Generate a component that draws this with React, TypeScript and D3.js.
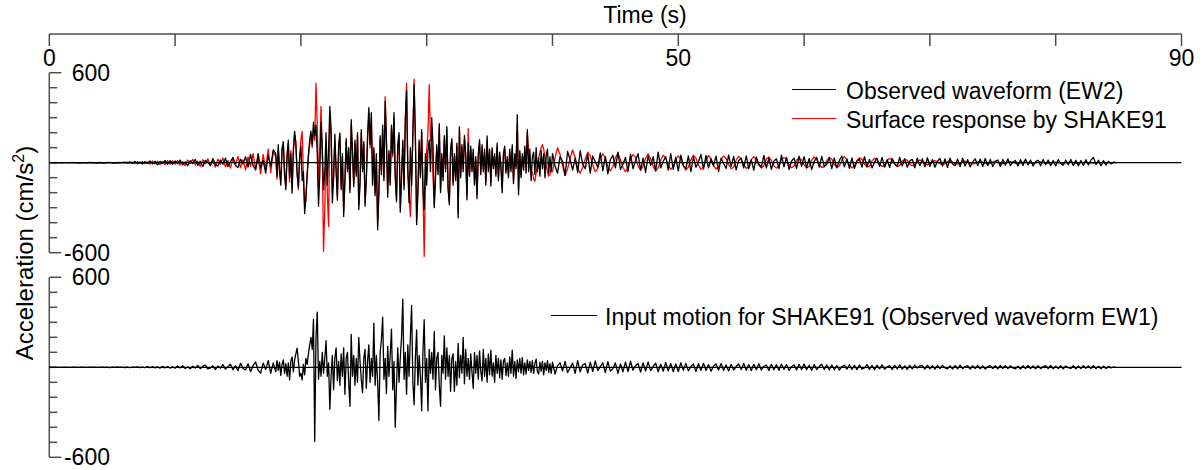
import React from 'react';
import * as d3 from 'd3';

// Segment start times (s) and sample steps (s); each series below is split into these segments
const segStarts = [0, 10, 18, 24, 30, 35, 40, 50, 60, 70];
const segSteps = [0.2, 0.2, 0.1, 0.1, 0.1, 0.1, 0.2, 0.2, 0.2, 0.2];

// Observed waveform (EW2) — top panel, black (cm/s^2)
const ew2_00 = [0,1,-1,1,0,-1,1,0,-1,2, -1,1,-2,1,0,-1,2,-1,1,-2, 2,-1,1,-2,3,-2,1,-3,2,-1, 4,-3,6,-5,8,-6,4,-9,7,-5, 12,-8,10,-14,9,-6,15,-11,13,-10];
const ew2_10 = [12,-8,18,-15,6,-20,14,-5,22,-18, 10,-25,16,3,-20,28,-12,-22,18,-10, 30,-26,8,35,-18,-32,24,-8,40,-30, 55,-20,-45,60,-35,15,-70,50,-25,85];
const ew2_18 = [60,-90,120,-40,-150,80,140,-60,-180,30, 150,-100,60,-203,90,209,120,-80,-160,40, 110,-120,-60,-340,-220,-90,60,150,210,120, 270,180,250,60,-290,-80,270,100,-180,-60, 200,-150,90,375,220,-267,-100,190,-60,-250, 120,198,-180,60,-358,-120,160,-60,100,-200];
const ew2_24 = [287,80,-160,150,-90,200,-313,-140,220,-60, 140,-290,-120,180,367,120,333,-150,100,-220, 60,-447,-200,180,-80,250,-120,409,150,-230, 80,-150,250,60,333,-100,-260,120,200,-330, -100,150,-180,300,480,-60,-267,100,-150,200, 520,180,-413,-200,150,-100,220,-180,-313,60];
const ew2_30 = [-150,80,150,-60,300,120,-300,-100,120,-80, 260,-200,60,-120,180,-60,240,-180,-280,90, 160,-150,60,-120,130,-367,240,-100,120,-60, 180,60,-247,130,-90,110,-60,90,-150,40, -240,60,153,-80,120,-60,90,-150,178,-60];
const ew2_35 = [90,-156,100,-40,60,-90,130,-120,70,-30, -200,60,110,-70,40,-100,90,-60,120,-140, 60,-40,320,-213,80,-100,60,-50,110,-70, 220,-60,90,-120,40,70,-80,100,-60,30, -90,80,-40,60,-100,50,90,-70,40,-60];
const ew2_40 = [60,-20,-70,40,10,-85,75,20,-50,30, -65,80,-10,-40,55,-70,45,5,-30,65, -55,40,-75,20,50,-35,70,-45,-10,35, -60,55,-40,15,60,-50,30,-65,45,-20, 40,-55,70,-35,10,40,-50,60,-45,35];
const ew2_50 = [-55,50,-20,-40,45,-60,38,-30,5,55, -42,48,-35,25,-20,44,-60,30,-5,-38, 50,-25,42,-48,15,30,-35,45,-40,20, -50,38,-10,-30,48,-36,32,-44,12,26, -40,50,-28,35,-45,10,30,-38,44,-25];
const ew2_60 = [40,-34,28,-46,8,36,-30,42,-26,-10, 34,-40,30,-35,15,45,-28,25,-38,32, -38,10,25,-30,40,-28,22,-35,5,30, -25,36,-30,20,-32,28,-8,-24,35,-22, 26,-30,12,22,-34,30,-20,27,-28,33];
const ew2_70 = [-24,20,-30,10,28,-22,25,-32,30,-8, -20,24,-26,30,-22,20,-28,5,26,-18, 24,-25,28,-20,22,-26,10,18,-25,22, -16,26,-20,5,15,-22,20,-18,24,-15, 18,-22,8,16,-20,22,-14,18,-20,15, -22,20,-6,-16,18,-14,22,-18,16,-20, 14,-18,20,-15,18,35,-12,16,-20,14, -16,10,-8,4,0];

// Surface response by SHAKE91 — top panel, red (cm/s^2)
const shk_00 = [0,0,0,0,0,0,0,0,0,0, 0,1,-1,1,-1,1,-1,2,-1,1, -2,1,-1,2,-2,1,-2,2,-1,2, -3,4,-4,5,-6,7,-5,8,-7,6, -10,12,-9,11,-13,8,-12,14,-10,12];
const shk_10 = [-10,14,-16,8,-20,18,-6,22,-14,10, -25,20,-8,26,-18,12,-30,24,-10,32, -28,15,-36,30,-12,42,-34,20,-48,38, -25,60,-50,35,-75,55,-40,90,-65,70];
const shk_18 = [40,-110,90,-70,-120,100,120,-90,-150,60, 130,-130,80,-170,60,190,140,-60,-180,20, 150,209,-100,-300,-250,-60,40,120,180,100, 220,150,531,250,-150,100,375,60,-591,-300, 100,-200,-425,300,200,-200,-80,150,-40,-220, 100,180,-150,40,-320,-100,140,-40,90,-180];
const shk_24 = [250,60,-140,130,-70,180,-280,-120,200,-40, 120,-260,-100,160,330,100,300,-130,80,-200, 40,-400,-180,160,-60,220,-100,440,130,-200, 60,-130,230,40,300,-80,-240,100,180,-300, -80,130,-150,260,530,-40,-200,-358,-120,180, 557,160,-380,-180,130,-80,200,-150,-625,-100];
const shk_30 = [80,200,520,150,200,-100,-280,-80,100,-60, 240,-180,40,-100,160,-40,220,-160,-260,70, 140,-130,40,-100,110,-340,220,-80,100,-40, 160,40,-220,227,-80,90,-40,70,-130,20, -210,40,130,-60,100,-40,70,-130,150,-40];
const shk_35 = [70,-130,80,-20,40,-70,110,-100,50,-10, -170,40,90,-50,20,-80,70,-40,100,-120, 40,-20,250,-180,60,-80,40,-30,90,-50, 200,80,-20,-80,-60,-110,-124,-70,-20,30, 70,100,120,90,40,-20,-60,-90,-80,-40];
const shk_40 = [-60,30,100,55,-20,-85,-40,30,85,35, -35,-70,-30,25,70,45,-15,-60,-40,30, 60,30,-25,-55,-25,35,65,20,-30,-60, -30,25,55,35,-20,-50,-25,30,60,25, -25,-55,-35,20,50,30,-15,-45,-25,25];
const shk_50 = [45,25,-20,-50,-30,20,50,30,-15,-45, -35,15,48,28,-20,-42,-25,22,45,30, -10,-40,-30,18,42,25,-15,-38,-28,20, 40,22,-18,-35,-20,25,38,15,-22,-36, -18,20,35,25,-12,-34,-22,18,30,20];
const shk_60 = [-15,-35,-25,15,38,22,-10,-32,-28,12, 35,25,-12,-30,-22,18,40,20,-15,-35, -20,15,32,22,-10,-28,-24,12,30,18, -12,-26,-18,15,28,20,-8,-25,-20,10, 22,15,-10,-20,-12,8,18,12,-8,-15];
const shk_70 = [-10,8,14,6,-8,-12,-6,8,12,5, -6,-10,-5,7,10,4,-6,-9,-4,6, 9,4,-5,-8,-3,5,8,3,-4,-7, -3,5,7,3,-4,-6,-2,4,6,2, -3,-5,-2,4,5,2,-3,-4,-1,3, 4,1,-2,-3,-1,2,3,1,-2,-2, 0,2,2,1,-1,-2,0,1,1,0, -1,0,1,0,0];

// Input motion for SHAKE91 (Observed waveform EW1) — bottom panel, black (cm/s^2)
const ew1_00 = [0,0,0,0,0,0,1,0,-1,0, 1,-1,0,1,-1,0,1,-1,1,0, -1,1,-1,1,-2,1,-1,2,-1,1, -2,2,-3,2,-1,3,-2,2,-3,4, -3,5,-4,3,-5,6,-4,5,-6,4];
const ew1_10 = [-6,9,-4,11,-8,3,-10,7,-5,12, -9,6,14,-11,-4,10,-15,8,-6,18, -12,4,20,-16,10,-22,26,-8,-18,24, -30,12,35,-20,-38,28,-15,45,-40,30];
const ew1_18 = [-30,45,-20,35,-55,20,50,-40,25,-60, 30,-84,40,70,-30,50,90,128,40,-60, -40,-84,20,-50,60,20,90,150,200,120, 320,-495,200,368,-80,40,-60,100,-40,60, 177,-60,30,-280,-60,80,-150,60,130,-90, 40,-120,90,-60,130,-180,60,100,-100,-260];
const ew1_24 = [220,-60,80,-120,60,-100,200,40,-80,-170, 60,120,-140,40,150,-100,60,-60,295,-120, 80,-100,-355,100,180,335,-80,60,-175,140, -60,80,255,-150,40,-400,-120,130,-100,60, 200,455,-80,100,-180,150,-60,200,412,-100, -250,60,250,-120,80,-60,-290,100,317,-100];
const ew1_30 = [60,-290,120,-40,100,-80,240,-150,60,100, -120,-260,80,-40,210,-80,130,-60,80,-160, 60,90,-160,40,-120,160,-70,80,-40,200, -110,120,-60,60,-80,90,-30,-140,100,-40, 80,-80,110,-30,-90,120,-60,60,-100,90];
const ew1_35 = [-50,115,-60,30,-100,80,-40,60,-70,50, -80,40,60,-55,30,-60,70,-40,115,-60, 40,-75,50,-30,60,-40,65,-50,30,-45, 50,-20,40,-35,45,-40,25,55,-30,-45, 35,-25,40,-50,30,-20,45,-35,25,-40];
const ew1_40 = [35,-45,10,30,-25,40,-35,-5,28,-40, 45,-30,15,25,-38,35,-28,42,-22,5, 30,-35,38,-25,-10,30,-40,22,-30,35, -28,40,-20,10,25,-32,30,-25,36,-22, 5,28,-30,20,-26,32,-24,25,-30,22];
const ew1_50 = [-28,30,-20,26,-24,5,22,-28,24,-20, 28,-22,18,-26,8,22,-18,25,-20,16, -24,20,-18,5,22,-15,26,-20,18,-22, 20,-16,24,-18,6,15,-22,20,-16,18, -20,22,-14,18,-20,3,16,-18,20,-15];
const ew1_60 = [22,-16,14,-20,18,-15,5,20,-14,16, -18,15,-16,12,-18,4,14,-12,17,-14, 13,-16,15,-12,-4,18,-14,12,-15,14, -10,16,-13,3,12,-15,14,-11,16,-12, 10,-14,13,-11,15,-5,10,12,-13,14];
const ew1_70 = [-10,11,-13,12,-9,14,-4,-11,10,-12, 12,-10,14,-9,5,11,-12,10,-8,13, -10,9,-12,3,11,-9,10,-11,12,-8, 10,-9,11,-4,-10,8,-12,10,-9,12, -8,9,-10,11,-9,4,10,-8,12,-10, 8,-9,10,-11,9,-3,-8,11,-10,8, -9,10,-7,9,-8,10,-9,8,-10,7, -8,6,-4,2,0];

const timeTicks = [0, 10, 20, 30, 40, 50, 60, 70, 80, 90];
const timeLabels = [0, 50, 90];
const accTicks = [-600, -500, -400, -300, -200, -100, 0, 100, 200, 300, 400, 500, 600];
const accLabels = [600, -600];

const legendTop = ['Observed waveform (EW2)', 'Surface response by SHAKE91'];
const legendBottom = 'Input motion for SHAKE91 (Observed waveform EW1)';

type Pt = { t: number; v: number };
function build(segs: number[][]): Pt[] {
  const out: Pt[] = [];
  segs.forEach((vals, k) => {
    vals.forEach((v, j) => out.push({ t: segStarts[k] + j * segSteps[k], v }));
  });
  return out;
}

const obsEW2 = build([ew2_00, ew2_10, ew2_18, ew2_24, ew2_30, ew2_35, ew2_40, ew2_50, ew2_60, ew2_70]);
const shake = build([shk_00, shk_10, shk_18, shk_24, shk_30, shk_35, shk_40, shk_50, shk_60, shk_70]);
const inputEW1 = build([ew1_00, ew1_10, ew1_18, ew1_24, ew1_30, ew1_35, ew1_40, ew1_50, ew1_60, ew1_70]);

const FONT = '"Liberation Sans", Arial, Helvetica, sans-serif';
const AXIS = '#4d4d4d';

export default function App() {
  const x = d3.scaleLinear().domain([0, 90]).range([49.3, 1181.5]);
  const yTop = d3.scaleLinear().domain([-600, 600]).range([252.7, 72.7]);
  const yBot = d3.scaleLinear().domain([-600, 600]).range([457.3, 277.3]);

  const lineTop = d3.line<Pt>().x(d => x(d.t)).y(d => yTop(d.v));
  const lineBot = d3.line<Pt>().x(d => x(d.t)).y(d => yBot(d.v));

  const yAxis = (y: d3.ScaleLinear<number, number>, key: string) => (
    <g key={key}>
      <line x1={x(0)} x2={x(0)} y1={y(-600)} y2={y(600)} stroke={AXIS} strokeWidth={1.5} />
      {accTicks.map(t => (
        <line key={t} x1={x(0)} x2={x(0) + (Math.abs(t) === 600 ? 12 : 8)} y1={y(t)} y2={y(t)} stroke={AXIS} strokeWidth={1.5} />
      ))}
      {accLabels.map(t => (
        <text key={t} x={110} y={y(t)} textAnchor="end" dominantBaseline="central" fontSize={23} fontFamily={FONT} fill="#000">
          {t}
        </text>
      ))}
    </g>
  );

  return (
    <svg width={1204} height={470} style={{ position: 'absolute', left: 0, top: 0, background: '#fff' }}>
      <rect x={0} y={0} width={1204} height={470} fill="#fff" />
      {/* top time axis */}
      <line x1={x(0)} x2={x(90)} y1={34} y2={34} stroke={AXIS} strokeWidth={1.5} />
      {timeTicks.map(t => (
        <line key={t} x1={x(t)} x2={x(t)} y1={34} y2={46} stroke={AXIS} strokeWidth={1.5} />
      ))}
      {timeLabels.map(t => (
        <text key={t} x={x(t)} y={66} textAnchor="middle" fontSize={23} fontFamily={FONT} fill="#000">
          {t}
        </text>
      ))}
      <text x={645} y={23} textAnchor="middle" fontSize={23} fontFamily={FONT} fill="#000">Time (s)</text>

      {yAxis(yTop, 'top')}
      {yAxis(yBot, 'bot')}

      <text transform="translate(33,253) rotate(-90)" textAnchor="middle" fontSize={24} fontFamily={FONT} fill="#000">
        Acceleration (cm/s<tspan dy={-9} fontSize={16}>2</tspan><tspan dy={9}>)</tspan>
      </text>

      {/* waveforms */}
      <path d={lineTop(shake) || ''} fill="none" stroke="#ff0000" strokeWidth={1.3} strokeLinejoin="round" />
      <path d={lineTop(obsEW2) || ''} fill="none" stroke="#000" strokeWidth={1.3} strokeLinejoin="round" />
      <path d={lineBot(inputEW1) || ''} fill="none" stroke="#000" strokeWidth={1.3} strokeLinejoin="round" />

      {/* zero lines */}
      <line x1={x(0)} x2={x(90)} y1={yTop(0)} y2={yTop(0)} stroke="#000" strokeWidth={1.3} />
      <line x1={x(0)} x2={x(90)} y1={yBot(0)} y2={yBot(0)} stroke="#000" strokeWidth={1.3} />

      {/* legends */}
      <line x1={792} x2={836} y1={89.5} y2={89.5} stroke="#000" strokeWidth={1.2} />
      <text x={846} y={99} fontSize={23} fontFamily={FONT} fill="#000">{legendTop[0]}</text>
      <line x1={792} x2={836} y1={118.5} y2={118.5} stroke="#ff0000" strokeWidth={1.2} />
      <text x={846} y={128} fontSize={23} fontFamily={FONT} fill="#000">{legendTop[1]}</text>

      <line x1={551} x2={597} y1={315.5} y2={315.5} stroke="#000" strokeWidth={1.2} />
      <text x={605} y={325} fontSize={23} fontFamily={FONT} fill="#000">{legendBottom}</text>
    </svg>
  );
}
